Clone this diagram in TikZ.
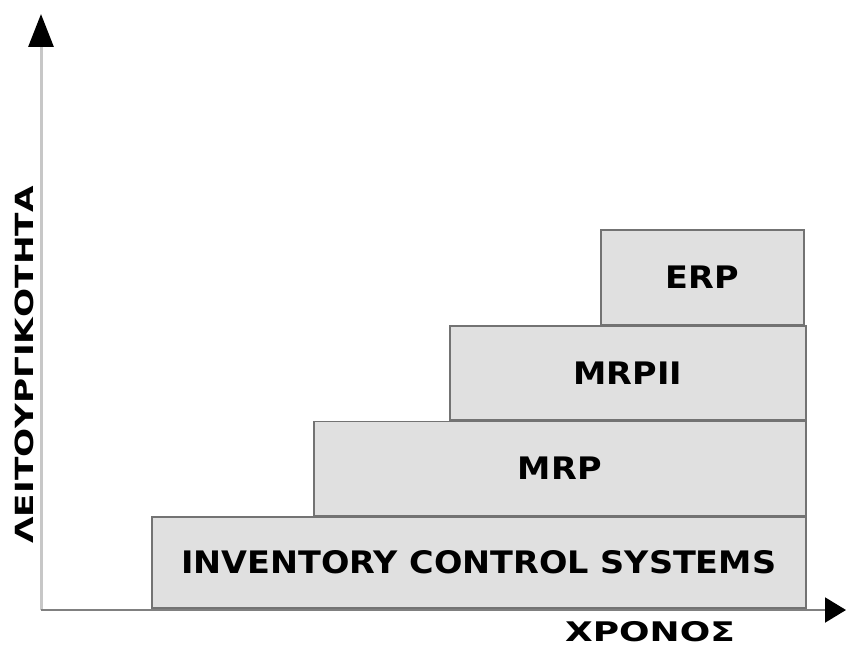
\documentclass[tikz,border=0pt]{standalone}
\usepackage{fontspec}
\usepackage{graphicx}
\setmainfont{DejaVu Sans}
\usetikzlibrary{positioning,arrows.meta}
\newcommand{\wide}[2]{\scalebox{#1}[1]{#2}}
\begin{document}
\begin{tikzpicture}[x=1pt,y=-1pt,font=\bfseries\fontsize{31}{31}\selectfont]
  \tikzstyle{stage}=[rectangle,draw=black!55,line width=1.5pt,fill=black!12,inner sep=0pt]
  \tikzstyle{axis}=[line width=2pt]
  \useasboundingbox (0,0) rectangle (846,647);
  \coordinate (o) at (41,610);
  \coordinate (ytip) at (41,14);
  \coordinate (xtip) at (846,610);
  \draw[axis,draw=black!22,line width=3pt,-{Triangle[length=33pt,width=25pt,color=black]}] (o) -- (ytip);
  \draw[axis,draw=black!50,-{Triangle[length=21pt,width=25pt,color=black]}] (o) -- (xtip);
  \node[stage,minimum width=654pt,minimum height=91pt,anchor=north west] (ics) at (151,516) {\wide{1.08}{INVENTORY CONTROL SYSTEMS}};
  \node[stage,minimum width=492pt,minimum height=94pt,above left=0pt and 0pt of ics.north east] (mrp) {\wide{1.08}{MRP}};
  \node[stage,minimum width=356pt,minimum height=94pt,above left=0pt and 0pt of mrp.north east] (mrpii) {\wide{1.08}{MRPII}};
  \node[stage,minimum width=203pt,minimum height=94pt,above left=0pt and 2pt of mrpii.north east] (erp) {\wide{1.08}{ERP}};
  \node[rotate=90,inner sep=0pt,font=\bfseries\fontsize{25}{25}\selectfont] (func) at (24,365) {\wide{1.37}{ΛΕΙΤΟΥΡΓΙΚΟΤΗΤΑ}};
  \node[inner sep=0pt,font=\bfseries\fontsize{27}{27}\selectfont] (time) at (650,632) {\wide{1.33}{ΧΡΟΝΟΣ}};
\end{tikzpicture}
\end{document}
